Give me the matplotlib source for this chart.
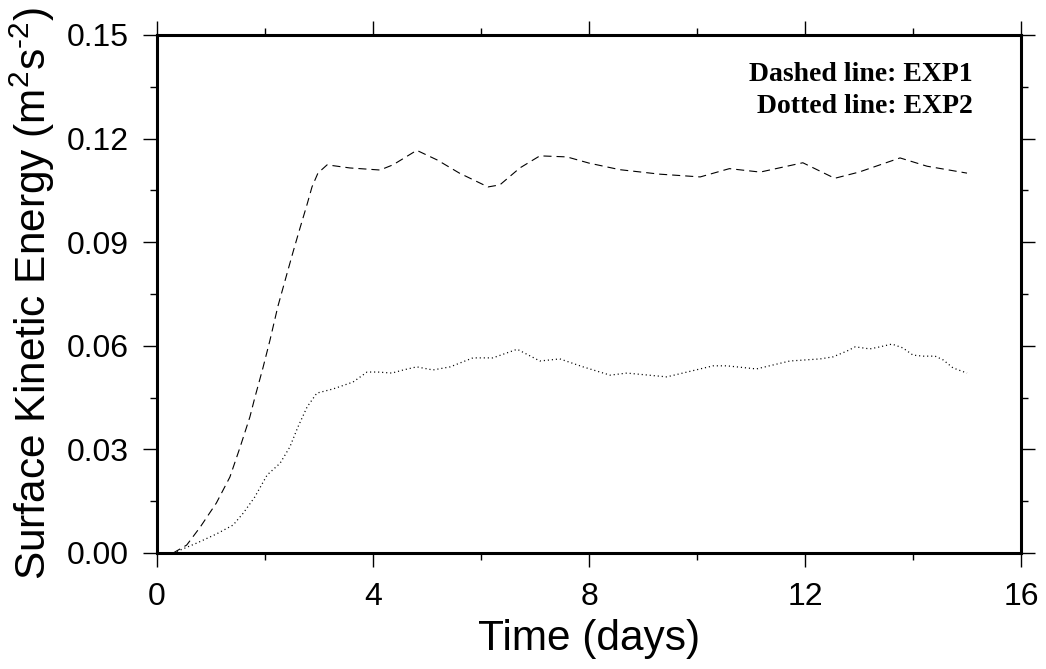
import matplotlib
matplotlib.use('Agg')
import matplotlib.pyplot as plt
from matplotlib.ticker import MultipleLocator, FormatStrFormatter

# EXP1 (dashed) surface kinetic energy
t_exp1 = [0.3, 0.55, 0.8, 1.1, 1.35, 1.54, 1.72, 1.81, 1.96, 2.09, 2.24, 2.4, 2.52,
          2.65, 2.78, 2.87, 2.98, 3.15, 3.57, 4.13, 4.37, 4.81, 5.19, 5.6, 6.13,
          6.35, 6.72, 7.09, 7.59, 8.0, 8.57, 9.31, 10.06, 10.6, 11.17, 11.96,
          12.55, 13.0, 13.76, 14.26, 15.0]
ke_exp1 = [0.0, 0.0023, 0.0075, 0.0145, 0.022, 0.0307, 0.0394, 0.0449, 0.0535,
           0.0615, 0.0715, 0.0805, 0.0872, 0.0942, 0.101, 0.106, 0.110, 0.1124,
           0.1115, 0.1109, 0.1124, 0.1166, 0.1138, 0.110, 0.106, 0.1066, 0.1115,
           0.115, 0.1147, 0.1129, 0.111, 0.1097, 0.1089, 0.1113, 0.1103, 0.1130,
           0.1085, 0.1103, 0.1144, 0.112, 0.110]

# EXP2 (dotted)
t_exp2 = [0.3, 0.74, 1.1, 1.41, 1.6, 1.81, 2.04, 2.28, 2.46, 2.61, 2.78, 2.96, 3.26,
          3.63, 3.89, 4.09, 4.35, 4.56, 4.81, 5.11, 5.43, 5.85, 6.22, 6.67, 7.09,
          7.46, 7.89, 8.39, 8.7, 9.44, 10.3, 10.55, 11.1, 11.72, 12.28, 12.52,
          12.78, 12.93, 13.2, 13.39, 13.61, 13.81, 14.0, 14.19, 14.41, 14.56,
          14.74, 15.0]
ke_exp2 = [0.0, 0.0029, 0.0055, 0.0081, 0.0116, 0.0162, 0.0226, 0.026, 0.0307,
           0.0365, 0.0423, 0.0463, 0.0475, 0.0495, 0.0524, 0.0524, 0.0521, 0.053,
           0.0539, 0.053, 0.0539, 0.0565, 0.0565, 0.059, 0.0556, 0.0562, 0.0539,
           0.0515, 0.0521, 0.051, 0.0542, 0.0542, 0.0533, 0.0556, 0.0562, 0.0568,
           0.0585, 0.0597, 0.0591, 0.0597, 0.0605, 0.0594, 0.0573, 0.057, 0.057,
           0.0559, 0.0536, 0.0521]

plt.rcParams['font.family'] = ['Liberation Sans', 'DejaVu Sans']
plt.rcParams['mathtext.fontset'] = 'custom'
plt.rcParams['mathtext.rm'] = 'Liberation Sans'
plt.rcParams['lines.scale_dashes'] = False

fig = plt.figure(figsize=(10.46, 6.69), dpi=100)
ax = fig.add_axes([0.1501, 0.1734, 0.826, 0.7743])

ax.plot(t_exp1, ke_exp1, color='black', lw=0.8, dashes=(5.8, 3.6))
ax.plot(t_exp2, ke_exp2, color='black', lw=0.9, dashes=(0.8, 2.1))

ax.set_xlim(0, 16)
ax.set_ylim(0, 0.15)
ax.xaxis.set_major_locator(MultipleLocator(4))
ax.xaxis.set_minor_locator(MultipleLocator(2))
ax.yaxis.set_major_locator(MultipleLocator(0.03))
ax.yaxis.set_minor_locator(MultipleLocator(0.015))
ax.yaxis.set_major_formatter(FormatStrFormatter('%.2f'))

for s in ax.spines.values():
    s.set_linewidth(2.2)
ax.tick_params(which='both', direction='out', top=True, right=True, width=1.0)
ax.tick_params(which='major', length=10, labelsize=23)
ax.tick_params(axis='x', which='major', pad=11)
ax.tick_params(axis='y', which='major', pad=10)
ax.tick_params(which='minor', length=5)

ax.set_xlabel('Time (days)', fontsize=30.5)
ax.xaxis.set_label_coords(0.5, -0.128)
ax.xaxis.label.set_va('top')
ax.set_ylabel('Surface Kinetic Energy (m$\\mathregular{^2}$s$\\mathregular{^{\\text{-}2}}$)',
              fontsize=30.5)
ax.yaxis.set_label_coords(-0.1157, 0.5)

ax.text(0.944, 0.911, 'Dashed line: EXP1', transform=ax.transAxes, ha='right',
        va='baseline', family='Liberation Serif', weight='bold', fontsize=20)
ax.text(0.944, 0.849, 'Dotted line: EXP2', transform=ax.transAxes, ha='right',
        va='baseline', family='Liberation Serif', weight='bold', fontsize=20)

plt.savefig('out.png', dpi=100)
